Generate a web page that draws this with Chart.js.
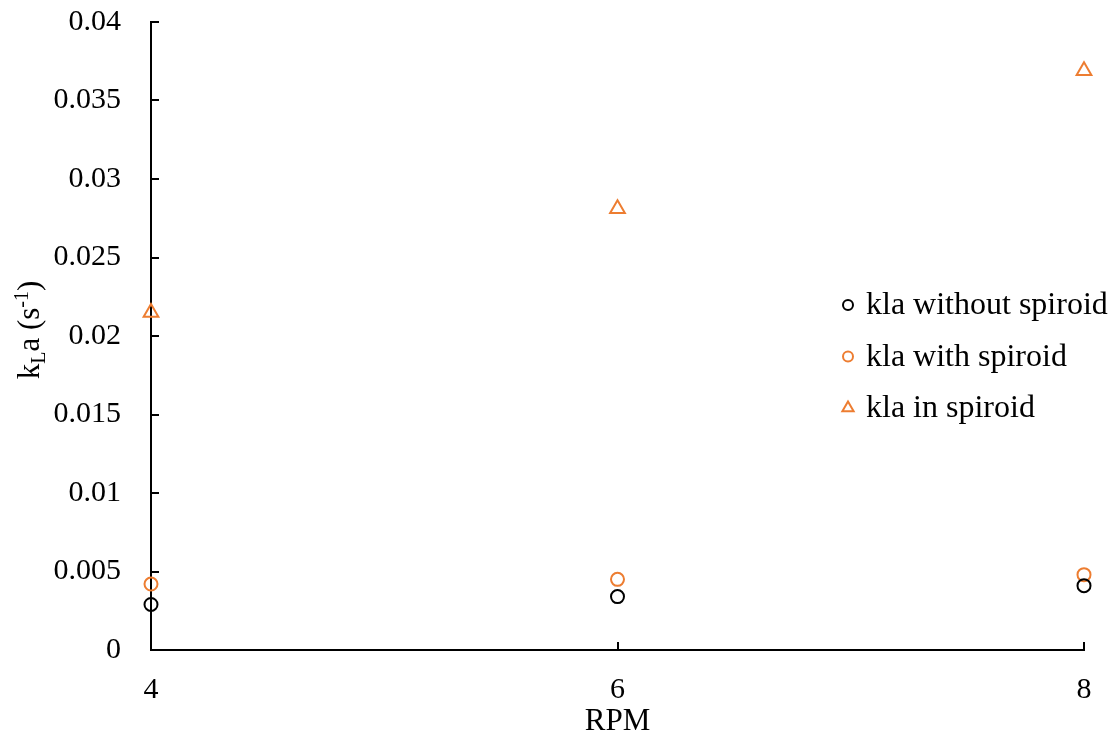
<!DOCTYPE html>
<html>
<head>
<meta charset="utf-8">
<script src="https://cdn.jsdelivr.net/npm/chart.js@4/dist/chart.umd.min.js"></script>
<style>
  body { margin: 0; background: #fff; }
  #wrap { width: 1115px; height: 736px; }
</style>
</head>
<body>
<div id="wrap"><canvas id="grafica" width="1115" height="736"></canvas></div>
<script>
// datos
const rpm = [4, 6, 8];
const klaSinSpiroid = [0.0029, 0.0034, 0.0041];
const klaConSpiroid = [0.0042, 0.0045, 0.0048];
const klaEnSpiroid = [0.0215, 0.0281, 0.0369];
const etiquetas = ["kla without spiroid", "kla with spiroid", "kla in spiroid"];
const yTicks = [0, 0.005, 0.01, 0.015, 0.02, 0.025, 0.03, 0.035, 0.04];

const naranja = "#ED7D31";
const fuente = "'Liberation Serif', 'Times New Roman', serif";

function puntos(valores) {
    return rpm.map((x, i) => ({ x: x, y: valores[i] }));
}

// marcas de los ejes hacia adentro
const marcasInternas = {
    id: "marcasInternas",
    afterDraw(chart) {
        const ctx = chart.ctx;
        const x = chart.scales.x, y = chart.scales.y;
        ctx.save();
        ctx.strokeStyle = "#000";
        ctx.lineWidth = 2;
        y.ticks.forEach(t => {
            const py = Math.round(y.getPixelForValue(t.value));
            ctx.beginPath();
            ctx.moveTo(x.left, py);
            ctx.lineTo(x.left + 8, py);
            ctx.stroke();
        });
        x.ticks.forEach(t => {
            const px = Math.round(x.getPixelForValue(t.value));
            ctx.beginPath();
            ctx.moveTo(px, y.bottom);
            ctx.lineTo(px, y.bottom - 8);
            ctx.stroke();
        });
        ctx.restore();
    }
};

// titulo del eje y con subindice y superindice
const tituloY = {
    id: "tituloY",
    afterDraw(chart) {
        const ctx = chart.ctx;
        const y = chart.scales.y;
        const partes = [
            { t: "k", size: 31, dy: 0 },
            { t: "L", size: 20, dy: 6 },
            { t: "a (s", size: 31, dy: 0 },
            { t: "-1", size: 20, dy: -11 },
            { t: ")", size: 31, dy: 0 }
        ];
        ctx.save();
        let total = 0;
        partes.forEach(p => {
            ctx.font = p.size + "px " + fuente;
            p.w = ctx.measureText(p.t).width;
            total += p.w;
        });
        ctx.translate(39, (y.top + y.bottom) / 2 - 6);
        ctx.rotate(-Math.PI / 2);
        ctx.fillStyle = "#000";
        ctx.textBaseline = "alphabetic";
        let cx = -total / 2;
        partes.forEach(p => {
            ctx.font = p.size + "px " + fuente;
            ctx.fillText(p.t, cx, p.dy);
            cx += p.w;
        });
        ctx.restore();
    }
};

// leyenda dibujada dentro del area
const leyenda = {
    id: "leyenda",
    afterDraw(chart) {
        const ctx = chart.ctx;
        ctx.save();
        chart.data.datasets.forEach((ds, i) => {
            const mx = 848, my = 305 + i * 51.5;
            ctx.strokeStyle = ds.borderColor;
            ctx.lineWidth = 2;
            ctx.beginPath();
            if (ds.pointStyle === "triangle") {
                const r = 6.5;
                ctx.moveTo(mx, my - r);
                ctx.lineTo(mx + r * 0.866, my + r / 2);
                ctx.lineTo(mx - r * 0.866, my + r / 2);
                ctx.closePath();
            } else {
                ctx.arc(mx, my, 5, 0, Math.PI * 2);
            }
            ctx.stroke();
            ctx.fillStyle = "#000";
            ctx.font = "32px " + fuente;
            ctx.textBaseline = "middle";
            ctx.fillText(ds.label, 866, my + 1);
        });
        ctx.restore();
    }
};

const ctx = document.getElementById("grafica").getContext("2d");

new Chart(ctx, {
    type: "scatter",
    data: {
        datasets: [
            {
                label: etiquetas[0],
                data: puntos(klaSinSpiroid),
                borderColor: "#000",
                backgroundColor: "rgba(0,0,0,0)",
                pointStyle: "circle",
                pointRadius: 6.5,
                borderWidth: 2,
                clip: false
            },
            {
                label: etiquetas[1],
                data: puntos(klaConSpiroid),
                borderColor: naranja,
                backgroundColor: "rgba(0,0,0,0)",
                pointStyle: "circle",
                pointRadius: 6.5,
                borderWidth: 2,
                clip: false
            },
            {
                label: etiquetas[2],
                data: puntos(klaEnSpiroid),
                borderColor: naranja,
                backgroundColor: "rgba(0,0,0,0)",
                pointStyle: "triangle",
                pointRadius: 8.5,
                borderWidth: 2,
                clip: false
            }
        ]
    },
    options: {
        responsive: false,
        animation: false,
        layout: { padding: { left: 0, top: 22, right: 31, bottom: 0 } },
        plugins: {
            legend: { display: false },
            tooltip: { enabled: false }
        },
        scales: {
            x: {
                type: "linear",
                min: 4,
                max: 8,
                afterFit: s => {
                    s.height = 86;
                    s.paddingLeft = 0;
                    s.paddingRight = 0;
                },
                ticks: {
                    stepSize: 2,
                    color: "#000",
                    padding: 22,
                    font: { family: fuente, size: 30 }
                },
                grid: { drawOnChartArea: false, drawTicks: false },
                border: { display: true, color: "#000", width: 2 },
                title: {
                    display: true,
                    text: "RPM",
                    color: "#000",
                    padding: { top: 0, bottom: -4 },
                    font: { family: fuente, size: 31 }
                }
            },
            y: {
                min: 0,
                max: 0.04,
                afterFit: s => {
                    s.width = 151;
                    s.paddingTop = 0;
                    s.paddingBottom = 0;
                },
                afterBuildTicks: s => { s.ticks = yTicks.map(v => ({ value: v })); },
                ticks: {
                    color: "#000",
                    padding: 30,
                    font: { family: fuente, size: 30 },
                    callback: v => String(v)
                },
                grid: { drawOnChartArea: false, drawTicks: false },
                border: { display: true, color: "#000", width: 2 }
            }
        }
    },
    plugins: [marcasInternas, tituloY, leyenda]
});
</script>
</body>
</html>
